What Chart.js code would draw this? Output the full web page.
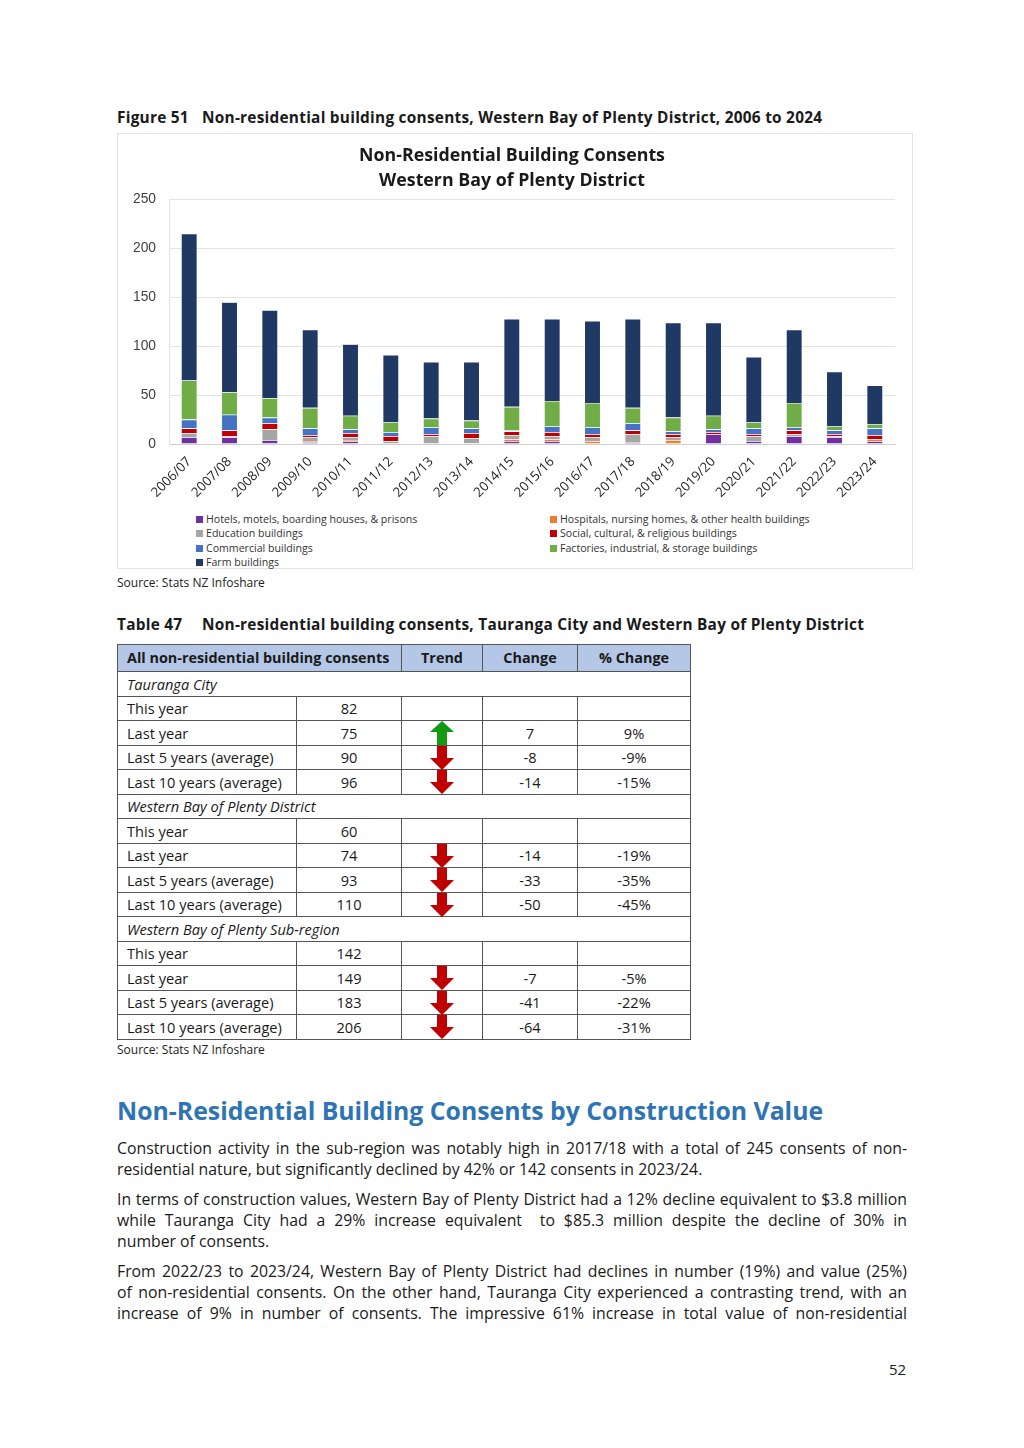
<!DOCTYPE html>
<html lang="en">
<head>
<meta charset="utf-8">
<title>Non-residential building consents - Western Bay of Plenty</title>
<script src="https://cdn.jsdelivr.net/npm/chart.js@4.4.1/dist/chart.umd.min.js"></script>
<style>
  body { margin: 0; background: #fff; font-family: 'Open Sans', sans-serif; color: #1a1a1a; }
  .page { position: relative; width: 1024px; height: 1448px; overflow: hidden; }
  .caption { position: absolute; left: 117px; font-weight: 700; font-size: 15.4px; letter-spacing: 0.25px; white-space: nowrap; }
  .caption span { display: inline-block; width: 85px; }
  .source { position: absolute; left: 117px; font-size: 12px; color: #222; }
  .chart-box { position: absolute; left: 117px; top: 133px; width: 794px; height: 434px; border: 1px solid #e4e4e4; }
  .chart-wrap { position: absolute; left: 0; top: 0; width: 794px; height: 372px; }
  .legend { position: absolute; left: 78px; top: 378px; display: grid; grid-template-columns: 354px 300px;
            row-gap: 0; font-size: 10.6px; color: #333; }
  .legend div { height: 14.3px; line-height: 14.3px; white-space: nowrap; }
  .legend i { display: inline-block; width: 7px; height: 7px; margin-right: 3px; vertical-align: 0; }
  table { position: absolute; left: 117px; top: 644px; width: 573px; border-collapse: collapse; table-layout: fixed;
          font-size: 14.6px; line-height: 20px; }
  td, th { border: 1px solid #555; height: 23.5px; padding: 0 9px; white-space: nowrap; overflow: visible; }
  th { background: #b4c7e7; font-weight: 700; height: 26px; text-align: center; font-size: 14.4px; }
  th.first { text-align: left; }
  td.c { text-align: center; }
  td.sec { font-style: italic; }
  td.arrow { text-align: center; padding: 0; position: relative; }
  td.arrow svg { position: absolute; left: 27px; top: 0px; }
  h2 { position: absolute; left: 117px; top: 1093px; margin: 0; font-size: 24.8px; font-weight: 700; color: #2e74b5; white-space: nowrap; }
  .para { position: absolute; left: 117px; width: 790px; font-size: 15.8px; line-height: 21px; }
  .para div { text-align: justify; text-align-last: justify; white-space: nowrap; }
  .para div.last { text-align-last: left; }
  .pageno { position: absolute; left: 889px; top: 1359px; font-size: 15px; }
</style>
</head>
<body>
<div class="page">
  <div class="caption" style="top:107px"><span>Figure 51</span>Non-residential building consents, Western Bay of Plenty District, 2006 to 2024</div>

  <div class="chart-box">
    <div class="chart-wrap"><canvas id="chart"></canvas></div>
    <div class="legend" id="legend"></div>
  </div>
  <div class="source" style="top:574px">Source: Stats NZ Infoshare</div>

  <div class="caption" style="top:614px"><span>Table 47</span>Non-residential building consents, Tauranga City and Western Bay of Plenty District</div>
  <table id="table"></table>
  <div class="source" style="top:1041px">Source: Stats NZ Infoshare</div>

  <h2>Non-Residential Building Consents by Construction Value</h2>
  <div class="para" style="top:1138px">
    <div>Construction activity in the sub-region was notably high in 2017/18 with a total of 245 consents of non-</div>
    <div class="last">residential nature, but significantly declined by 42% or 142 consents in 2023/24.</div>
  </div>
  <div class="para" style="top:1189px">
    <div>In terms of construction values, Western Bay of Plenty District had a 12% decline equivalent to $3.8 million</div>
    <div>while Tauranga City had a 29% increase equivalent&nbsp; to $85.3 million despite the decline of 30% in</div>
    <div class="last">number of consents.</div>
  </div>
  <div class="para" style="top:1261px">
    <div>From 2022/23 to 2023/24, Western Bay of Plenty District had declines in number (19%) and value (25%)</div>
    <div>of non-residential consents. On the other hand, Tauranga City experienced a contrasting trend, with an</div>
    <div>increase of 9% in number of consents. The impressive 61% increase in total value of non-residential</div>
  </div>
  <div class="pageno">52</div>
</div>

<script>
// Chart data (number of consents per year, by building type)
const seasons = ['2006/07', '2007/08', '2008/09', '2009/10', '2010/11', '2011/12', '2012/13', '2013/14', '2014/15',
  '2015/16', '2016/17', '2017/18', '2018/19', '2019/20', '2020/21', '2021/22', '2022/23', '2023/24'];
const hotels =     [7, 7, 4, 2, 3, 0, 0, 0, 3, 3, 0, 2, 0, 10, 3, 8, 7, 3];
const hospitals =  [0, 0, 0, 1, 1, 0, 0, 1, 2, 2, 3, 0, 4, 0, 0, 0, 0, 2];
const education =  [4, 1, 11, 4, 3, 3, 8, 5, 4, 3, 4, 8, 3, 0, 5, 2, 1, 0];
const social =     [5, 6, 6, 2, 4, 5, 2, 5, 4, 4, 3, 4, 3, 2, 2, 4, 2, 4];
const commercial = [9, 16, 6, 7, 4, 4, 7, 5, 1, 6, 7, 7, 3, 3, 6, 3, 4, 7];
const factories =  [40, 23, 20, 21, 14, 10, 9, 8, 24, 26, 25, 16, 14, 14, 6, 25, 4, 4];
const farm =       [150, 92, 90, 80, 73, 69, 58, 60, 90, 84, 84, 91, 97, 95, 67, 75, 56, 40];
const yTicks = [0, 50, 100, 150, 200, 250];

const seriesNames = ['Hotels, motels, boarding houses, & prisons', 'Hospitals, nursing homes, & other health buildings',
  'Education buildings', 'Social, cultural, & religious buildings', 'Commercial buildings',
  'Factories, industrial, & storage buildings', 'Farm buildings'];
const seriesColors = ['#7030a0', '#ed7d31', '#a5a5a5', '#c00000', '#4472c4', '#70ad47', '#1f3864'];
const seriesValues = [hotels, hospitals, education, social, commercial, factories, farm];

// Table 47 data
const tableSections = ['Tauranga City', 'Western Bay of Plenty District', 'Western Bay of Plenty Sub-region'];
const rowLabels = ['This year', 'Last year', 'Last 5 years (average)', 'Last 10 years (average)'];
const tableValues = [[82, 75, 90, 96], [60, 74, 93, 110], [142, 149, 183, 206]];
const tableChange = [['', '7', '-8', '-14'], ['', '-14', '-33', '-50'], ['', '-7', '-41', '-64']];
const tablePct = [['', '9%', '-9%', '-15%'], ['', '-19%', '-35%', '-45%'], ['', '-5%', '-22%', '-31%']];

const UP_ARROW = '<svg width="26" height="24" viewBox="0 0 26 24"><polygon points="13,0 25,11 18,11 18,24 8,24 8,11 1,11" fill="#119a12"/></svg>';
const DOWN_ARROW = '<svg width="26" height="24" viewBox="0 0 26 24"><polygon points="8,0 18,0 18,12 25,12 13,24 1,12 8,12" fill="#c00000"/></svg>';

function buildTable() {
  let html = '<colgroup><col style="width:179px"><col style="width:105px"><col style="width:81px"><col style="width:95px"><col style="width:113px"></colgroup>';
  html += '<tr><th class="first" colspan="2">All non-residential building consents</th><th>Trend</th><th>Change</th><th>% Change</th></tr>';
  tableSections.forEach((name, s) => {
    html += '<tr><td class="sec" colspan="5">' + name + '</td></tr>';
    rowLabels.forEach((label, r) => {
      let arrow = '';
      if (tableChange[s][r] !== '') arrow = tableChange[s][r].startsWith('-') ? DOWN_ARROW : UP_ARROW;
      html += '<tr><td>' + label + '</td><td class="c">' + tableValues[s][r] + '</td><td class="arrow">' + arrow +
        '</td><td class="c">' + tableChange[s][r] + '</td><td class="c">' + tablePct[s][r] + '</td></tr>';
    });
  });
  document.getElementById('table').innerHTML = html;
}

function buildChart() {
  const datasets = seriesNames.map((name, i) => ({
    label: name,
    data: seriesValues[i],
    backgroundColor: seriesColors[i],
    borderColor: 'rgba(255,255,255,0.7)',
    borderWidth: 0.6,
    barPercentage: 0.4,
    categoryPercentage: 1
  }));

  const chart = new Chart(document.getElementById('chart'), {
    type: 'bar',
    data: { labels: seasons, datasets },
    options: {
      responsive: true,
      maintainAspectRatio: false,
      animation: false,
      layout: { padding: { left: 11, right: 17, top: 4, bottom: 0 } },
      plugins: {
        legend: { display: false },
        tooltip: { enabled: false },
        title: {
          display: true,
          text: ['Non-Residential Building Consents', 'Western Bay of Plenty District'],
          color: '#1a1a1a',
          font: { family: 'Open Sans', size: 17.8, weight: 'bold', lineHeight: 1.42 },
          padding: { top: 5, bottom: 6 }
        }
      },
      scales: {
        x: {
          stacked: true,
          grid: { display: false },
          border: { color: '#d0d0d0' },
          ticks: { color: '#262626', font: { family: 'Open Sans', size: 13.2 }, minRotation: 45, maxRotation: 45, padding: 2 },
          afterFit: (axis) => { axis.height = 62; }
        },
        y: {
          stacked: true,
          min: 0,
          max: 250,
          afterBuildTicks: (axis) => { axis.ticks = yTicks.map(v => ({ value: v })); },
          grid: { color: '#e3e3e3', drawTicks: false },
          border: { color: '#e3e3e3' },
          ticks: { color: '#404040', font: { family: 'Liberation Sans', size: 13.8 }, padding: 13 },
          afterFit: (axis) => { axis.width = 40; }
        }
      }
    }
  });

  // HTML legend, two columns, built from the chart's datasets
  const legend = document.getElementById('legend');
  legend.innerHTML = chart.data.datasets.map(ds =>
    '<div><i style="background:' + ds.backgroundColor + '"></i>' + ds.label + '</div>').join('');
}

buildChart();
buildTable();
</script>
</body>
</html>
